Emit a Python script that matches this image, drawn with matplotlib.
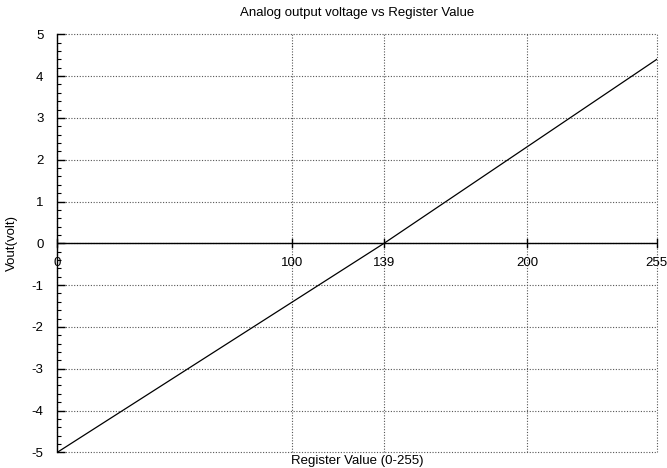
import matplotlib
matplotlib.use("Agg")
import matplotlib.pyplot as plt
from matplotlib.ticker import MultipleLocator

plt.rcParams['font.family'] = ['Liberation Sans', 'DejaVu Sans']

# Register value vs. analog output voltage
register = [0, 139, 255]
vout = [-5.0, 0.0, 4.4]

x_ticks = [0, 100, 139, 200, 255]
y_ticks = [-5, -4, -3, -2, -1, 0, 1, 2, 3, 4, 5]

FS = 9.5

fig = plt.figure(figsize=(6.67, 4.68), dpi=100)
ax = fig.add_axes([0.0859, 0.0335, 0.8987, 0.8932])

ax.set_xlim(0, 255)
ax.set_ylim(-5, 5)

# dotted grid
for xv in x_ticks:
    ax.axvline(xv, color='#555555', lw=0.8, ls=(0, (1, 1.5)), zorder=1, clip_on=False)
for yv in y_ticks:
    ax.axhline(yv, color='#555555', lw=0.8, ls=(0, (1, 1.5)), zorder=1, clip_on=False)

# zero axis
ax.axhline(0, color='black', lw=1.0, zorder=2)

ax.plot(register, vout, color='black', lw=0.9, zorder=3)

for s in ['top', 'right', 'bottom']:
    ax.spines[s].set_visible(False)
ax.spines['left'].set_linewidth(1.0)

ax.set_yticks(y_ticks)
ax.set_yticklabels([str(v) for v in y_ticks])
ax.yaxis.set_minor_locator(MultipleLocator(0.2))
ax.tick_params(axis='y', which='major', direction='in', length=6, width=1,
               labelsize=FS, pad=10)
ax.tick_params(axis='y', which='minor', direction='in', length=3, width=0.8)

ax.set_xticks([])
# x ticks drawn on the zero axis
for xv in x_ticks:
    ax.plot([xv, xv], [-0.1, 0.1], color='black', lw=1.0, zorder=2, clip_on=False)
    ax.text(xv, -0.32, str(xv), ha='center', va='top', fontsize=FS)

ax.set_title('Analog output voltage vs Register Value', fontsize=FS, pad=13)
ax.set_xlabel('Register Value (0-255)', fontsize=FS, labelpad=2)
ax.set_ylabel('Vout(volt)', fontsize=FS, labelpad=10)

fig.savefig('out.png', dpi=100)
